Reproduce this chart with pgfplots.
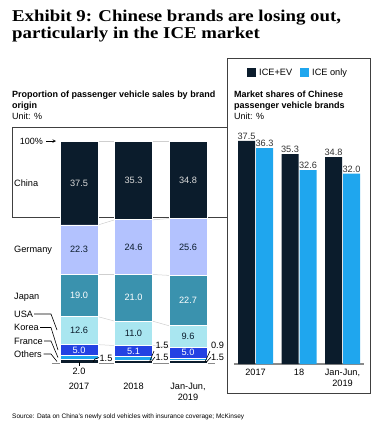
\documentclass[border=0pt]{standalone}
\usepackage{fontspec}
\setmainfont{Liberation Sans}
\newfontfamily\titlefont{Liberation Serif}
\usepackage{pgfplots}
\pgfplotsset{compat=1.18}
\definecolor{cChina}{HTML}{0B1C2C}
\definecolor{cGermany}{HTML}{B3C2FE}
\definecolor{cJapan}{HTML}{3A92AE}
\definecolor{cUSA}{HTML}{A9E6F0}
\definecolor{cKorea}{HTML}{2442E3}
\definecolor{cFrance}{HTML}{1FA6EE}
\definecolor{cOthers}{HTML}{0B1C2C}
\definecolor{cIceEv}{HTML}{0B1C2C}
\definecolor{cIce}{HTML}{1FA6EE}
\definecolor{cConn}{HTML}{CFCFCF}
\definecolor{cAxis}{HTML}{8A8A8A}
\definecolor{cBox}{HTML}{404040}
\newcommand{\lab}{\fontsize{9.2bp}{11bp}\selectfont}
\newcommand{\sub}{\fontsize{9bp}{11bp}\selectfont}
\begin{document}
\begin{tikzpicture}
\path[use as bounding box] (0,0) rectangle (384bp,-436bp);
% title
\node[anchor=base west, inner sep=0, font=\titlefont\bfseries\fontsize{16.5bp}{18bp}\selectfont] at (12bp,-21bp) {\scalebox{1.14}[1]{Exhibit 9: Chinese brands are losing out,}};
\node[anchor=base west, inner sep=0, font=\titlefont\bfseries\fontsize{16.5bp}{18bp}\selectfont] at (12bp,-38.5bp) {\scalebox{1.14}[1]{particularly in the ICE market}};
% boxes
\draw[line width=0.8bp, cBox] (12bp,-127bp) rectangle (227.5bp,-217bp);
\draw[line width=0.8bp, cBox] (227.5bp,-58bp) rectangle (370bp,-393bp);
% subtitles
\node[anchor=base west, inner sep=0, font=\sub\bfseries] at (12bp,-97bp) {Proportion of passenger vehicle sales by brand};
\node[anchor=base west, inner sep=0, font=\sub\bfseries] at (12bp,-108.5bp) {origin};
\node[anchor=base west, inner sep=0, font=\sub] at (12bp,-119bp) {Unit: \%};
\node[anchor=base west, inner sep=0, font=\sub\bfseries] at (234bp,-97bp) {Market shares of Chinese};
\node[anchor=base west, inner sep=0, font=\sub\bfseries] at (234bp,-108.5bp) {passenger vehicle brands};
\node[anchor=base west, inner sep=0, font=\sub] at (234bp,-119.5bp) {Unit: \%};
% legend
\fill[cIceEv] (247bp,-68bp) rectangle (255.5bp,-76.5bp);
\node[anchor=base west, inner sep=0, font=\lab] at (259bp,-75.8bp) {ICE+EV};
\fill[cIce] (300bp,-68bp) rectangle (308.5bp,-76.5bp);
\node[anchor=base west, inner sep=0, font=\lab] at (312bp,-75.8bp) {ICE only};
% left row labels
\node[anchor=base east, inner sep=0, font=\fontsize{9bp}{10bp}\selectfont] at (43bp,-144.2bp) {100\%};
\draw[-stealth, line width=0.6bp] (46bp,-141bp) -- (56bp,-141bp);
\node[anchor=base west, inner sep=0, font=\lab] at (14bp,-186.3bp) {China};
\node[anchor=base west, inner sep=0, font=\lab] at (14bp,-252.5bp) {Germany};
\node[anchor=base west, inner sep=0, font=\lab] at (14bp,-299bp) {Japan};
\node[anchor=base west, inner sep=0, font=\lab] at (14bp,-317.3bp) {USA};
\node[anchor=base west, inner sep=0, font=\lab] at (14bp,-330.7bp) {Korea};
\node[anchor=base west, inner sep=0, font=\lab] at (14bp,-344.2bp) {France};
\node[anchor=base west, inner sep=0, font=\lab] at (14bp,-357.4bp) {Others};
\draw[line width=0.6bp] (34bp,-314bp) -- (51bp,-314bp) -- (57bp,-330bp);
\draw[line width=0.6bp] (40bp,-327.5bp) -- (51bp,-327.5bp) -- (58bp,-350bp);
\draw[line width=0.6bp] (44bp,-341bp) -- (51bp,-341bp) -- (58bp,-357.5bp);
\draw[line width=0.6bp] (43.5bp,-354bp) -- (51bp,-354bp) -- (57bp,-361.5bp);
% connector lines (behind bars)
\begin{axis}[
  scale only axis, width=163.5bp, height=222bp,
  at={(51.75bp,-363.5bp)}, anchor=south west,
  xmin=-0.5, xmax=2.5, ymin=0, ymax=100,
  hide axis,
]
\addplot[cConn, line width=0.5bp] coordinates {(0.349,100) (0.651,100)};
\addplot[cConn, line width=0.5bp] coordinates {(1.349,100) (1.651,100)};
\addplot[cConn, line width=0.5bp] coordinates {(0.349,62.4) (0.651,64.7)};
\addplot[cConn, line width=0.5bp] coordinates {(1.349,64.7) (1.651,65.3)};
\addplot[cConn, line width=0.5bp] coordinates {(0.349,40.1) (0.651,40.1)};
\addplot[cConn, line width=0.5bp] coordinates {(1.349,40.1) (1.651,39.7)};
\addplot[cConn, line width=0.5bp] coordinates {(0.349,21.1) (0.651,19.1)};
\addplot[cConn, line width=0.5bp] coordinates {(1.349,19.1) (1.651,17.0)};
\addplot[cConn, line width=0.5bp] coordinates {(0.349,8.5) (0.651,8.1)};
\addplot[cConn, line width=0.5bp] coordinates {(1.349,8.1) (1.651,7.4)};
\end{axis}
% left stacked bars
\begin{axis}[
  scale only axis, width=163.5bp, height=222bp,
  at={(51.75bp,-363.5bp)}, anchor=south west,
  xmin=-0.5, xmax=2.5, ymin=0, ymax=100,
  ybar stacked, bar width=38bp,
  axis x line*=bottom, axis y line=none,
  x axis line style={draw=cAxis, line width=1.5bp, -},
  xtick={0,1,2}, xticklabels={2017,2018,{Jan-Jun,\\2019}},
  xtick style={draw=none}, major tick length=0pt,
  xticklabel style={align=center, font=\lab, yshift=-16bp},
  clip=false,
]
\addplot[fill=cOthers, draw=white, line width=0.8bp] coordinates {(0,2.0) (1,1.5) (2,1.5)};
\addplot[fill=cFrance, draw=white, line width=0.8bp] coordinates {(0,1.5) (1,1.5) (2,0.9)};
\addplot[fill=cKorea, draw=white, line width=0.8bp] coordinates {(0,5.0) (1,5.1) (2,5.0)};
\addplot[fill=cUSA, draw=white, line width=0.8bp] coordinates {(0,12.6) (1,11.0) (2,9.6)};
\addplot[fill=cJapan, draw=white, line width=0.8bp] coordinates {(0,19.0) (1,21.0) (2,22.7)};
\addplot[fill=cGermany, draw=white, line width=0.8bp] coordinates {(0,22.3) (1,24.6) (2,25.6)};
\addplot[fill=cChina, draw=white, line width=0.8bp] coordinates {(0,37.5) (1,35.3) (2,34.8)};
\end{axis}
% value labels (overlay axis)
\begin{axis}[
  scale only axis, width=163.5bp, height=222bp,
  at={(51.75bp,-363.5bp)}, anchor=south west,
  xmin=-0.5, xmax=2.5, ymin=0, ymax=100,
  hide axis, clip=false,
]
\node[font=\lab, text=white!85!black] at (axis cs:0,81.15) {37.5};
\node[font=\lab, text=white!85!black] at (axis cs:1,82.35) {35.3};
\node[font=\lab, text=white!85!black] at (axis cs:2,82.7) {34.8};
\node[font=\lab, text=cChina] at (axis cs:0,51.25) {22.3};
\node[font=\lab, text=cChina] at (axis cs:1,52.4) {24.6};
\node[font=\lab, text=cChina] at (axis cs:2,52.5) {25.6};
\node[font=\lab, text=white] at (axis cs:0,30.6) {19.0};
\node[font=\lab, text=white] at (axis cs:1,29.6) {21.0};
\node[font=\lab, text=white] at (axis cs:2,28.35) {22.7};
\node[font=\lab, text=cChina] at (axis cs:0,14.8) {12.6};
\node[font=\lab, text=cChina] at (axis cs:1,13.6) {11.0};
\node[font=\lab, text=cChina] at (axis cs:2,12.2) {9.6};
\node[font=\lab, text=white] at (axis cs:0,6.0) {5.0};
\node[font=\lab, text=white] at (axis cs:1,5.55) {5.1};
\node[font=\lab, text=white] at (axis cs:2,4.9) {5.0};
\end{axis}
% small outside labels
\draw[line width=0.7bp] (79bp,-362bp) -- (79bp,-366bp);
\node[font=\lab, inner sep=0] at (79bp,-371bp) {2.0};
\draw[line width=0.6bp] (93bp,-362bp) -- (95bp,-359bp) -- (99bp,-357.5bp);
\node[font=\lab, inner sep=0] at (106bp,-358bp) {1.5};
\draw[line width=0.6bp] (149.5bp,-362bp) -- (154bp,-351bp);
\draw[line width=0.6bp] (151bp,-362bp) -- (155bp,-357bp);
\node[font=\lab, inner sep=0] at (162bp,-345.5bp) {1.5};
\node[font=\lab, inner sep=0] at (162bp,-357bp) {1.5};
\draw[line width=0.6bp] (205bp,-362bp) -- (210bp,-351bp);
\draw[line width=0.6bp] (206.5bp,-362bp) -- (211bp,-357bp);
\node[font=\lab, inner sep=0] at (217.5bp,-345.5bp) {0.9};
\node[font=\lab, inner sep=0] at (217.5bp,-357bp) {1.5};
% right grouped bars
\begin{axis}[
  scale only axis, width=130.5bp, height=237.9bp,
  at={(233.75bp,-364bp)}, anchor=south west,
  xmin=-0.5, xmax=2.5, ymin=0, ymax=40,
  ybar=1bp, bar width=17bp,
  axis x line*=bottom, axis y line=none,
  x axis line style={draw=cAxis, line width=1.2bp, -},
  xtick={0,1,2}, xticklabels={2017,18,{Jan-Jun,\\2019}},
  xtick style={draw=none}, major tick length=0pt,
  xticklabel style={align=center, font=\lab, yshift=-2bp},
  nodes near coords,
  every node near coord/.append style={font=\lab, text=black!80, anchor=south, inner sep=1.2bp,
     /pgf/number format/.cd, fixed, fixed zerofill, precision=1, assume math mode=true},
  clip=false,
]
\addplot[fill=cIceEv, draw=none] coordinates {(0,37.5) (1,35.3) (2,34.8)};
\addplot[fill=cIce, draw=none] coordinates {(0,36.3) (1,32.6) (2,32.0)};
\end{axis}
% source
\node[anchor=base west, inner sep=0, font=\fontsize{6.5bp}{8bp}\selectfont] at (12bp,-418bp) {Source: Data on China's newly sold vehicles with insurance coverage; McKinsey};
\end{tikzpicture}
\end{document}
